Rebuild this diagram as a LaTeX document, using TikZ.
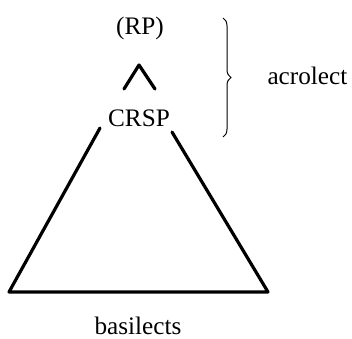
\documentclass[tikz,border=0pt]{standalone}
\usepackage{fontspec}
\setmainfont{Liberation Serif}
\usepackage{tikz}
\usetikzlibrary{positioning,decorations.pathreplacing}
\tikzset{
  lect/.style={
    x=0.5pt, y=-0.5pt,
    line width=1.5pt,
    every node/.style={font=\fontsize{12.6}{15}\selectfont, inner sep=0pt}
  },
  lectlabel/.style={anchor=center},
  treeline/.style={line width=1.6pt, line cap=round, line join=round},
  lectbrace/.style={line width=0.5pt, decorate,
    decoration={brace, amplitude=4pt}}
}
\begin{document}
\begin{tikzpicture}[lect]
\useasboundingbox (0,0) rectangle (352,338);

% labels
\node[lectlabel] (rp) at (140,28) {(RP)};
\node[lectlabel] (crsp) at (139,118) {CRSP};
\node[lectlabel] (basilects) at (138,326) {basilects};
\node[lectlabel, anchor=west] (acrolect) at (266,76) {acrolect};

% caret between RP and CRSP
\coordinate (capex) at (139,65);
\draw[treeline] (124,89) -- (capex) -- (155,89);

% the triangle below CRSP
\coordinate (tl) at (100,128);
\coordinate (tr) at (172,132);
\coordinate (bl) at (9,292);
\coordinate (br) at (268,292);
\draw[treeline] (tl) -- (bl) -- (br) -- (tr);

% brace marking the acrolect
\draw[lectbrace] (223,18) -- (223,137);

\end{tikzpicture}
\end{document}
